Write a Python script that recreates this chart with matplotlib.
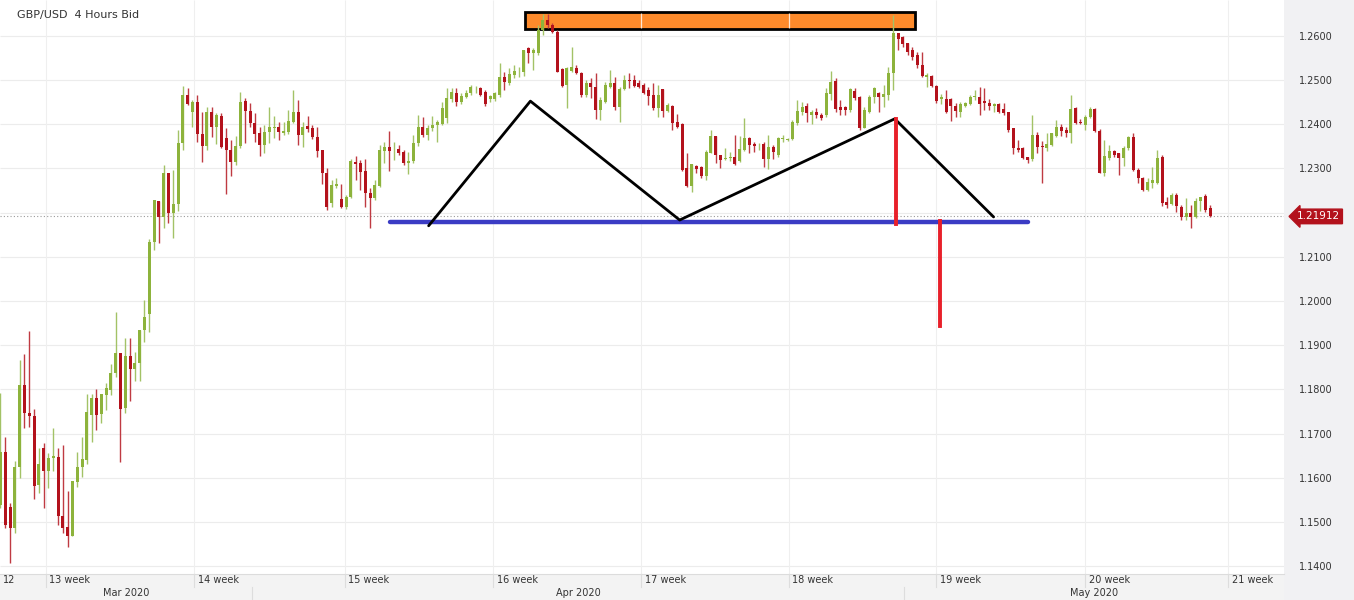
import matplotlib
matplotlib.use("Agg")
import matplotlib.pyplot as plt
from matplotlib.patches import Rectangle
from matplotlib.transforms import blended_transform_factory
import numpy as np

# ---------------- data (GBP/USD, 4-hour bars) ----------------
opens = [
    1.1539, 1.1658, 1.1534, 1.1487, 1.1625, 1.1810, 1.1747, 1.1740, 1.1584, 1.1667,
    1.1615, 1.1645, 1.1647, 1.1514, 1.1489, 1.1468, 1.1591, 1.1625, 1.1640, 1.1742,
    1.1781, 1.1744, 1.1787, 1.1799, 1.1837, 1.1882, 1.1758, 1.1876, 1.1846, 1.1860,
    1.1934, 1.1971, 1.2133, 1.2226, 1.2190, 1.2289, 1.2199, 1.2219, 1.2357, 1.2466,
    1.2427, 1.2450, 1.2378, 1.2351, 1.2427, 1.2394, 1.2418, 1.2369, 1.2342, 1.2314,
    1.2351, 1.2452, 1.2430, 1.2403, 1.2380, 1.2353, 1.2382, 1.2391, 1.2394, 1.2380,
    1.2382, 1.2405, 1.2427, 1.2375, 1.2396, 1.2391, 1.2371, 1.2342, 1.2289, 1.2222,
    1.2260, 1.2231, 1.2213, 1.2235, 1.2314, 1.2312, 1.2294, 1.2244, 1.2233, 1.2260,
    1.2339, 1.2348, 1.2345, 1.2344, 1.2337, 1.2312, 1.2317, 1.2357, 1.2394, 1.2375,
    1.2391, 1.2398, 1.2400, 1.2414, 1.2457, 1.2470, 1.2450, 1.2461, 1.2470, 1.2481,
    1.2482, 1.2473, 1.2457, 1.2457, 1.2466, 1.2507, 1.2493, 1.2511, 1.2517, 1.2518,
    1.2572, 1.2561, 1.2561, 1.2613, 1.2636, 1.2624, 1.2608, 1.2525, 1.2488, 1.2520,
    1.2527, 1.2516, 1.2466, 1.2493, 1.2484, 1.2432, 1.2450, 1.2484, 1.2493, 1.2439,
    1.2480, 1.2500, 1.2500, 1.2493, 1.2488, 1.2477, 1.2466, 1.2436, 1.2480, 1.2430,
    1.2441, 1.2405, 1.2400, 1.2301, 1.2260, 1.2305, 1.2303, 1.2283, 1.2335, 1.2373,
    1.2330, 1.2321, 1.2323, 1.2326, 1.2317, 1.2342, 1.2369, 1.2355, 1.2352, 1.2355,
    1.2321, 1.2348, 1.2330, 1.2366, 1.2365, 1.2366, 1.2403, 1.2427, 1.2441, 1.2421,
    1.2427, 1.2421, 1.2421, 1.2468, 1.2498, 1.2439, 1.2439, 1.2432, 1.2475, 1.2461,
    1.2391, 1.2427, 1.2461, 1.2470, 1.2461, 1.2466, 1.2516, 1.2606, 1.2597, 1.2584,
    1.2568, 1.2556, 1.2534, 1.2507, 1.2509, 1.2486, 1.2457, 1.2457, 1.2457, 1.2441,
    1.2427, 1.2441, 1.2446, 1.2461, 1.2461, 1.2452, 1.2448, 1.2441, 1.2446, 1.2434,
    1.2427, 1.2391, 1.2346, 1.2346, 1.2326, 1.2321, 1.2375, 1.2351, 1.2346, 1.2353,
    1.2373, 1.2394, 1.2387, 1.2380, 1.2436, 1.2405, 1.2398, 1.2416, 1.2434, 1.2385,
    1.2289, 1.2323, 1.2339, 1.2335, 1.2323, 1.2346, 1.2371, 1.2296, 1.2278, 1.2251,
    1.2267, 1.2267, 1.2326, 1.2224, 1.2219, 1.2240, 1.2213, 1.2190, 1.2199, 1.2190,
    1.2226, 1.2237, 1.2210,
]
highs = [
    1.1792, 1.1692, 1.1543, 1.1638, 1.1866, 1.1880, 1.1932, 1.1756, 1.1667, 1.1679,
    1.1656, 1.1713, 1.1667, 1.1674, 1.1570, 1.1593, 1.1658, 1.1692, 1.1790, 1.1790,
    1.1801, 1.1790, 1.1815, 1.1857, 1.1975, 1.1882, 1.1916, 1.1916, 1.1885, 1.1934,
    1.2002, 1.2140, 1.2228, 1.2226, 1.2308, 1.2289, 1.2296, 1.2387, 1.2486, 1.2482,
    1.2455, 1.2466, 1.2427, 1.2439, 1.2439, 1.2425, 1.2425, 1.2391, 1.2364, 1.2373,
    1.2473, 1.2459, 1.2448, 1.2425, 1.2394, 1.2398, 1.2439, 1.2418, 1.2405, 1.2405,
    1.2432, 1.2477, 1.2455, 1.2405, 1.2418, 1.2398, 1.2394, 1.2342, 1.2301, 1.2274,
    1.2278, 1.2265, 1.2240, 1.2321, 1.2328, 1.2319, 1.2321, 1.2256, 1.2274, 1.2353,
    1.2360, 1.2385, 1.2360, 1.2353, 1.2342, 1.2337, 1.2375, 1.2421, 1.2416, 1.2398,
    1.2418, 1.2409, 1.2450, 1.2482, 1.2482, 1.2482, 1.2470, 1.2477, 1.2488, 1.2486,
    1.2484, 1.2477, 1.2466, 1.2473, 1.2538, 1.2518, 1.2527, 1.2534, 1.2529, 1.2568,
    1.2575, 1.2572, 1.2624, 1.2649, 1.2649, 1.2629, 1.2613, 1.2527, 1.2529, 1.2575,
    1.2534, 1.2518, 1.2500, 1.2504, 1.2516, 1.2461, 1.2495, 1.2523, 1.2507, 1.2484,
    1.2511, 1.2516, 1.2511, 1.2500, 1.2493, 1.2484, 1.2493, 1.2488, 1.2480, 1.2448,
    1.2443, 1.2423, 1.2403, 1.2335, 1.2310, 1.2308, 1.2305, 1.2342, 1.2387, 1.2373,
    1.2330, 1.2346, 1.2337, 1.2375, 1.2373, 1.2414, 1.2371, 1.2360, 1.2357, 1.2360,
    1.2375, 1.2353, 1.2371, 1.2375, 1.2369, 1.2409, 1.2455, 1.2450, 1.2448, 1.2432,
    1.2436, 1.2425, 1.2482, 1.2520, 1.2504, 1.2455, 1.2441, 1.2482, 1.2482, 1.2464,
    1.2439, 1.2466, 1.2484, 1.2473, 1.2488, 1.2529, 1.2647, 1.2606, 1.2599, 1.2584,
    1.2575, 1.2563, 1.2563, 1.2516, 1.2511, 1.2488, 1.2468, 1.2477, 1.2459, 1.2448,
    1.2450, 1.2450, 1.2466, 1.2477, 1.2484, 1.2482, 1.2457, 1.2448, 1.2448, 1.2448,
    1.2427, 1.2391, 1.2364, 1.2348, 1.2326, 1.2421, 1.2382, 1.2362, 1.2380, 1.2380,
    1.2409, 1.2400, 1.2394, 1.2466, 1.2439, 1.2412, 1.2421, 1.2439, 1.2436, 1.2389,
    1.2364, 1.2353, 1.2342, 1.2335, 1.2351, 1.2373, 1.2380, 1.2301, 1.2280, 1.2278,
    1.2303, 1.2342, 1.2330, 1.2235, 1.2244, 1.2244, 1.2217, 1.2233, 1.2217, 1.2233,
    1.2235, 1.2242, 1.2217,
]
lows = [
    1.1532, 1.1487, 1.1407, 1.1475, 1.1600, 1.1713, 1.1715, 1.1552, 1.1566, 1.1532,
    1.1577, 1.1615, 1.1493, 1.1475, 1.1444, 1.1468, 1.1579, 1.1602, 1.1631, 1.1681,
    1.1708, 1.1724, 1.1753, 1.1787, 1.1828, 1.1636, 1.1747, 1.1774, 1.1819, 1.1819,
    1.1907, 1.1930, 1.2115, 1.2131, 1.2165, 1.2176, 1.2143, 1.2204, 1.2342, 1.2443,
    1.2394, 1.2360, 1.2314, 1.2342, 1.2371, 1.2355, 1.2346, 1.2242, 1.2283, 1.2307,
    1.2346, 1.2357, 1.2394, 1.2360, 1.2328, 1.2335, 1.2357, 1.2369, 1.2364, 1.2375,
    1.2378, 1.2403, 1.2353, 1.2348, 1.2382, 1.2366, 1.2326, 1.2265, 1.2206, 1.2213,
    1.2256, 1.2210, 1.2208, 1.2233, 1.2274, 1.2251, 1.2213, 1.2165, 1.2228, 1.2258,
    1.2312, 1.2294, 1.2319, 1.2330, 1.2307, 1.2287, 1.2312, 1.2351, 1.2371, 1.2364,
    1.2385, 1.2360, 1.2398, 1.2403, 1.2450, 1.2441, 1.2446, 1.2459, 1.2466, 1.2470,
    1.2464, 1.2441, 1.2450, 1.2452, 1.2461, 1.2477, 1.2488, 1.2504, 1.2507, 1.2509,
    1.2538, 1.2523, 1.2556, 1.2602, 1.2618, 1.2606, 1.2518, 1.2484, 1.2436, 1.2518,
    1.2513, 1.2461, 1.2461, 1.2459, 1.2412, 1.2409, 1.2448, 1.2482, 1.2432, 1.2405,
    1.2477, 1.2482, 1.2484, 1.2482, 1.2468, 1.2443, 1.2432, 1.2416, 1.2416, 1.2427,
    1.2387, 1.2391, 1.2294, 1.2258, 1.2247, 1.2290, 1.2278, 1.2274, 1.2335, 1.2312,
    1.2301, 1.2319, 1.2317, 1.2308, 1.2314, 1.2339, 1.2335, 1.2337, 1.2342, 1.2303,
    1.2299, 1.2321, 1.2326, 1.2360, 1.2362, 1.2364, 1.2398, 1.2421, 1.2405, 1.2400,
    1.2414, 1.2409, 1.2416, 1.2455, 1.2427, 1.2421, 1.2421, 1.2427, 1.2455, 1.2387,
    1.2391, 1.2425, 1.2448, 1.2427, 1.2439, 1.2455, 1.2477, 1.2568, 1.2575, 1.2556,
    1.2545, 1.2527, 1.2507, 1.2484, 1.2484, 1.2448, 1.2446, 1.2425, 1.2407, 1.2416,
    1.2416, 1.2439, 1.2443, 1.2455, 1.2421, 1.2432, 1.2432, 1.2427, 1.2425, 1.2421,
    1.2382, 1.2332, 1.2337, 1.2321, 1.2312, 1.2317, 1.2335, 1.2267, 1.2339, 1.2351,
    1.2371, 1.2373, 1.2371, 1.2357, 1.2400, 1.2400, 1.2387, 1.2414, 1.2382, 1.2289,
    1.2283, 1.2319, 1.2326, 1.2285, 1.2305, 1.2342, 1.2294, 1.2267, 1.2249, 1.2249,
    1.2256, 1.2265, 1.2215, 1.2210, 1.2217, 1.2201, 1.2183, 1.2183, 1.2165, 1.2188,
    1.2204, 1.2201, 1.2190,
]
closes = [
    1.1658, 1.1493, 1.1487, 1.1625, 1.1810, 1.1747, 1.1740, 1.1581, 1.1631, 1.1615,
    1.1645, 1.1650, 1.1514, 1.1487, 1.1468, 1.1593, 1.1625, 1.1643, 1.1749, 1.1781,
    1.1742, 1.1790, 1.1803, 1.1837, 1.1882, 1.1756, 1.1876, 1.1846, 1.1860, 1.1934,
    1.1964, 1.2133, 1.2228, 1.2190, 1.2289, 1.2199, 1.2219, 1.2357, 1.2466, 1.2446,
    1.2450, 1.2378, 1.2351, 1.2427, 1.2394, 1.2421, 1.2348, 1.2342, 1.2314, 1.2351,
    1.2450, 1.2430, 1.2403, 1.2378, 1.2353, 1.2382, 1.2394, 1.2394, 1.2382, 1.2385,
    1.2407, 1.2427, 1.2375, 1.2394, 1.2389, 1.2371, 1.2339, 1.2289, 1.2213, 1.2262,
    1.2265, 1.2213, 1.2235, 1.2317, 1.2310, 1.2292, 1.2244, 1.2233, 1.2262, 1.2342,
    1.2348, 1.2339, 1.2346, 1.2335, 1.2312, 1.2317, 1.2357, 1.2394, 1.2375, 1.2391,
    1.2398, 1.2405, 1.2436, 1.2459, 1.2473, 1.2450, 1.2464, 1.2470, 1.2484, 1.2482,
    1.2466, 1.2446, 1.2464, 1.2470, 1.2507, 1.2495, 1.2513, 1.2520, 1.2518, 1.2568,
    1.2561, 1.2568, 1.2613, 1.2636, 1.2624, 1.2608, 1.2518, 1.2486, 1.2527, 1.2529,
    1.2516, 1.2466, 1.2493, 1.2484, 1.2432, 1.2455, 1.2488, 1.2493, 1.2439, 1.2480,
    1.2500, 1.2498, 1.2486, 1.2484, 1.2470, 1.2464, 1.2436, 1.2466, 1.2430, 1.2443,
    1.2403, 1.2394, 1.2296, 1.2260, 1.2310, 1.2299, 1.2283, 1.2337, 1.2373, 1.2330,
    1.2319, 1.2323, 1.2326, 1.2310, 1.2344, 1.2369, 1.2353, 1.2351, 1.2353, 1.2321,
    1.2348, 1.2337, 1.2369, 1.2369, 1.2366, 1.2405, 1.2430, 1.2439, 1.2425, 1.2427,
    1.2421, 1.2414, 1.2470, 1.2495, 1.2434, 1.2432, 1.2432, 1.2480, 1.2459, 1.2391,
    1.2432, 1.2461, 1.2482, 1.2461, 1.2468, 1.2516, 1.2606, 1.2593, 1.2581, 1.2563,
    1.2552, 1.2534, 1.2509, 1.2511, 1.2486, 1.2452, 1.2461, 1.2427, 1.2441, 1.2430,
    1.2446, 1.2448, 1.2461, 1.2464, 1.2446, 1.2448, 1.2441, 1.2446, 1.2427, 1.2425,
    1.2387, 1.2346, 1.2342, 1.2323, 1.2319, 1.2375, 1.2348, 1.2348, 1.2355, 1.2380,
    1.2394, 1.2385, 1.2380, 1.2434, 1.2403, 1.2403, 1.2416, 1.2434, 1.2385, 1.2289,
    1.2328, 1.2339, 1.2330, 1.2323, 1.2346, 1.2371, 1.2296, 1.2278, 1.2251, 1.2269,
    1.2274, 1.2323, 1.2222, 1.2217, 1.2240, 1.2215, 1.2190, 1.2199, 1.2190, 1.2226,
    1.2235, 1.2206, 1.21912,
]

last_price = 1.21912
price_ticks = [1.14, 1.15, 1.16, 1.17, 1.18, 1.19, 1.20, 1.21, 1.22,
               1.23, 1.24, 1.25, 1.26]

# week boundaries (in bar units) and labels
week_starts = [9.4, 40.4, 71.7, 102.7, 133.5, 164.2, 195.0, 226.0, 255.8]
week_labels = ["13 week", "14 week", "15 week", "16 week", "17 week",
               "18 week", "19 week", "20 week", "21 week"]
first_week_label = "12"
month_bounds = [-0.1, 52.5, 188.3, 267.4]
month_labels = ["Mar 2020", "Apr 2020", "May 2020"]

# double-top pattern annotation (bar index, price)
pattern_x = [89.2, 110.4, 141.5, 186.3, 206.9]
pattern_y = [1.2170, 1.2452, 1.2183, 1.2412, 1.2190]
neckline_x = [81.2, 214.0]
neckline_y = [1.2178, 1.2178]
height_x = [186.5, 186.5]
height_y = [1.2412, 1.2174]
target_x = [195.8, 195.8]
target_y = [1.2181, 1.1944]
top_zone_x = [109.2, 190.6]
top_zone_y = [1.2615, 1.2654]

# ---------------- figure ----------------
W, H = 1354, 600
fig = plt.figure(figsize=(W / 100, H / 100), dpi=100)
fig.patch.set_facecolor("white")
plot_right = 1284
band_h = 26
ax = fig.add_axes([0, band_h / H, plot_right / W, (H - band_h) / H])
ax.set_facecolor("white")
ax.set_xlim(-0.1, 267.4)
ax.set_ylim(1.13822, 1.26808)
for s in ax.spines.values():
    s.set_visible(False)

# right price panel & bottom time band backgrounds
fig.patches.append(Rectangle((plot_right / W, 0), 1 - plot_right / W, 1,
                             transform=fig.transFigure, fc="#f1f1f3",
                             ec="none", zorder=-2))
fig.patches.append(Rectangle((0, 0), plot_right / W, band_h / H,
                             transform=fig.transFigure, fc="#f3f3f3",
                             ec="none", zorder=-2))

# grid
ax.hlines(price_ticks, -0.1, 267.4, color="#ececec", lw=0.8, zorder=0)
ax.vlines(week_starts, 1.13822, 1.26808, color="#efefef", lw=0.8, zorder=0)

# y axis on the right
ax.yaxis.tick_right()
ax.set_yticks(price_ticks)
ax.set_yticklabels([f"{p:.4f}" for p in price_ticks])
ax.tick_params(axis="y", length=0, pad=11, labelsize=7, labelcolor="#333333")
ax.set_xticks([])

# current price dotted line
ax.axhline(last_price, color="#9a9a9a", lw=0.8, ls=(0, (1, 2)), zorder=1)

# top zone box (behind candles)
ax.add_patch(Rectangle((top_zone_x[0], top_zone_y[0]),
                       top_zone_x[1] - top_zone_x[0],
                       top_zone_y[1] - top_zone_y[0],
                       fc="#fd8a2b", ec="black", lw=2.0, zorder=1.5))
ax.vlines([w for w in week_starts if top_zone_x[0] < w < top_zone_x[1]],
          top_zone_y[0] + 0.0003, top_zone_y[1] - 0.0003,
          color="white", lw=0.9, alpha=0.8, zorder=1.6)

# candles
o = np.array(opens); h = np.array(highs); l = np.array(lows); c = np.array(closes)
idx = np.arange(len(c))
up = c >= o
body_col = np.where(up, "#8db33c", "#b3121c")
wick_col = np.where(up, "#a3c266", "#bf3a42")
ax.vlines(idx, l, h, colors=wick_col, lw=1.0, zorder=2)
bottoms = np.minimum(o, c)
heights = np.maximum(np.abs(c - o), 0.00015)
ax.bar(idx, heights, bottom=bottoms, width=0.62, color=body_col,
       linewidth=0, zorder=3)

# pattern annotations
ax.plot(neckline_x, neckline_y, color="#3b3cc4", lw=3.2,
        solid_capstyle="round", zorder=4)
ax.plot(pattern_x, pattern_y, color="black", lw=2.0,
        solid_capstyle="round", solid_joinstyle="round", zorder=5)
ax.plot(height_x, height_y, color="#e8202a", lw=2.8, zorder=6)
ax.plot(target_x, target_y, color="#e8202a", lw=2.8, zorder=6)

# current price tag
tag_tr = blended_transform_factory(ax.transAxes, ax.transData)
ax.text(1297 / plot_right, last_price, f"{last_price:.5f}", transform=tag_tr,
        fontsize=7.5, color="white", va="center", ha="left", clip_on=False,
        zorder=10,
        bbox=dict(boxstyle="larrow,pad=0.22", fc="#b3121c", ec="#b3121c"))

# title
fig.text(17 / W, 1 - 15 / H, "GBP/USD  4 Hours Bid", fontsize=8,
         color="#333333", va="center", ha="left")

# bottom time band
bt = blended_transform_factory(ax.transData, fig.transFigure)
ax.plot([-0.1, 267.4], [band_h / H, band_h / H], transform=bt,
        color="#dcdcdc", lw=0.8, clip_on=False)
row_mid = 13 / H
for w in week_starts:
    ax.plot([w, w], [row_mid, band_h / H], transform=bt, color="#dddddd",
            lw=0.8, clip_on=False)
for w, lab in zip(week_starts, week_labels):
    ax.text(w + 0.8, 20 / H, lab, transform=bt, fontsize=7, color="#333333",
            va="center", ha="left", clip_on=False)
ax.text(0.6, 20 / H, first_week_label, transform=bt, fontsize=7,
        color="#333333", va="center", ha="left", clip_on=False)
for b in month_bounds[1:-1]:
    ax.plot([b, b], [0, row_mid], transform=bt, color="#dddddd",
            lw=0.8, clip_on=False)
for i, lab in enumerate(month_labels):
    xm = (month_bounds[i] + month_bounds[i + 1]) / 2
    ax.text(xm, 7 / H, lab, transform=bt, fontsize=7, color="#333333",
            va="center", ha="center", clip_on=False)

fig.savefig("out.png", dpi=100)
